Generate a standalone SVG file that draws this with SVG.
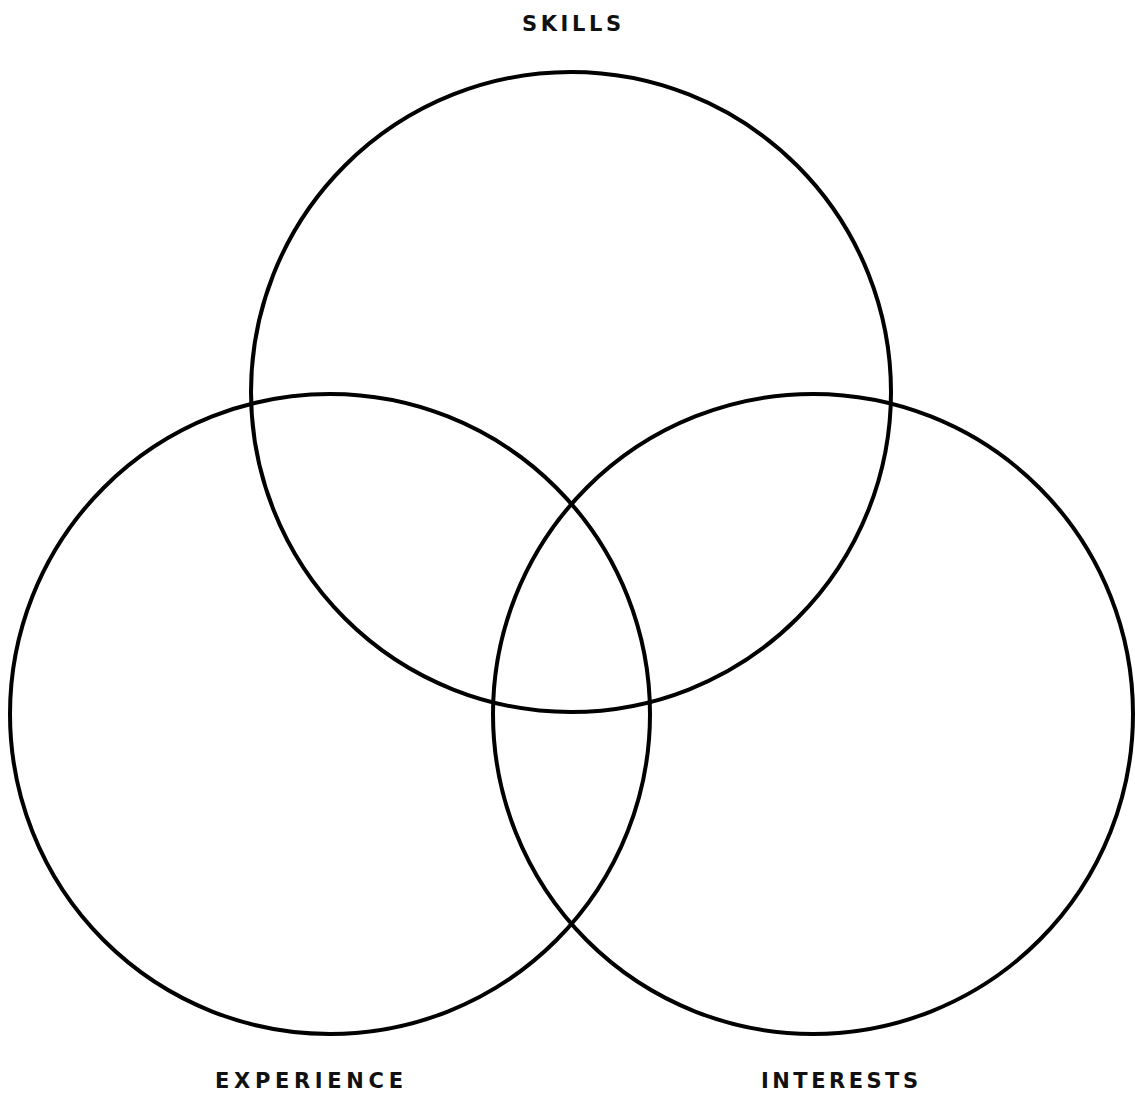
<svg xmlns="http://www.w3.org/2000/svg" width="1135" height="1099" viewBox="0 0 1135 1099">
<style>
.c{fill:none;stroke:#000;stroke-width:4}
.t{font-family:"DejaVu Sans","Liberation Sans",sans-serif;font-weight:700;font-size:21px;fill:#111}
</style>
<rect width="1135" height="1099" fill="#fff"/>
<g id="skills"><circle class="c" cx="571" cy="392" r="320"/><text class="t" x="522" y="31" textLength="99" lengthAdjust="spacing">SKILLS</text></g>
<g id="experience"><circle class="c" cx="330" cy="714" r="320"/><text class="t" x="215" y="1088" textLength="188" lengthAdjust="spacing">EXPERIENCE</text></g>
<g id="interests"><circle class="c" cx="813" cy="714" r="320"/><text class="t" x="761" y="1088" textLength="157" lengthAdjust="spacing">INTERESTS</text></g>
<g id="connectors"/>
</svg>
